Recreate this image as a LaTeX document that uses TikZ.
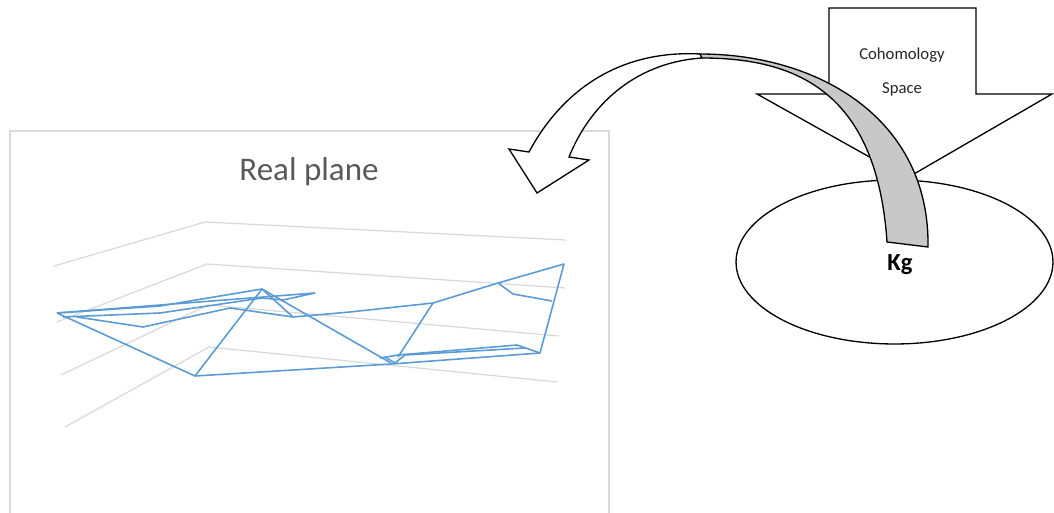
\documentclass[tikz,border=0pt]{standalone}
\usepackage{fontspec}
\setmainfont{Carlito}
\usetikzlibrary{shapes.geometric}
\definecolor{chartblue}{HTML}{5B9BD5}
\definecolor{chartgrid}{HTML}{D9D9D9}
\definecolor{titlegrey}{HTML}{595959}
\definecolor{bandgrey}{HTML}{C8C8C8}
\begin{document}
\begin{tikzpicture}[x=0.02cm,y=-0.02cm,
  gridline/.style={chartgrid,line width=0.7pt},
  series/.style={chartblue,line width=0.9pt,line join=round},
  outline/.style={draw=black,line width=0.75pt}]
\useasboundingbox (0,0) rectangle (1054,513);

% chart
\draw[gridline] (10,513) -- (10,131) -- (609,131) -- (609,513);
\node[text=titlegrey,font=\fontsize{18.8}{22}\selectfont] (title) at (309,172) {Real plane};
\draw[gridline] (54,266) -- (205,222) -- (566,240);
\draw[gridline] (57,322) -- (207,264) -- (565,288);
\draw[gridline] (61,375) -- (208,305) -- (559,336);
\draw[gridline] (65,427) -- (209,347) -- (557,382);

% surface
\draw[series] (57,313) -- (315,293);
\draw[series] (57,313) -- (160,306) -- (262,289) -- (293,317);
\draw[series] (57,313) -- (195,376) -- (262,289) -- (391,363);
\draw[series] (63,317) -- (160,313) -- (262,298) -- (283,300) -- (315,293);
\draw[series] (77,317) -- (143,327) -- (230,308) -- (293,317) -- (350,312) -- (433,303)
  -- (498,283) -- (564,264) -- (540,353);
\draw[series] (433,303) -- (398,357);
\draw[series] (498,283) -- (513,294) -- (552,301);
\draw[series] (195,376) -- (391,364) -- (540,353);
\draw[series] (380,358) -- (398,355) -- (517,345) -- (540,353);
\draw[series] (385,357) -- (395,363) -- (405,355) -- (525,348);

% cohomology space
\draw[outline,fill=white] (829,8) -- (976,8) -- (976,94) -- (1052,94) -- (907,178)
  -- (757,94) -- (829,94) -- cycle;
\node[text=black!85,font=\fontsize{9.5}{11}\selectfont] (coh) at (902,55) {Cohomology};
\node[text=black!85,font=\fontsize{9.5}{11}\selectfont] (spc) at (902,89) {Space};
\node[draw,ellipse,fill=white,line width=0.75pt,inner sep=0pt,minimum width=6.34cm,
  minimum height=3.28cm] (kg) at (894.5,262) {};
\node[font=\fontsize{14}{16}\selectfont\bfseries] (kgtext) at (900,265) {Kg};

% curved arrow
\draw[outline,fill=white] (529,152) .. controls (565,85) and (625,50) .. (700,54)
  -- (702,58) .. controls (640,62) and (592,100) .. (569,157)
  -- (589,160) -- (537,193) -- (509,149) -- cycle;
\draw[outline,fill=bandgrey] (700,54) .. controls (820,54) and (930,120) .. (928,247)
  -- (887,242) .. controls (877,95) and (800,58) .. (702,58) -- cycle;
\end{tikzpicture}
\end{document}
